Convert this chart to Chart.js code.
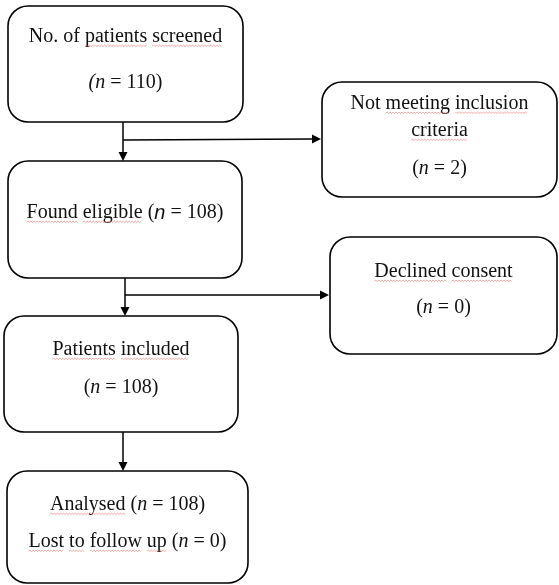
<!DOCTYPE html>
<html><head><meta charset="utf-8">
<script src="https://cdn.jsdelivr.net/npm/chart.js@4"></script>
<style>html,body{margin:0;padding:0;background:#fff}canvas{display:block}</style>
</head><body>
<canvas id="c" width="559" height="585"></canvas>
<script>
// ---- data ----
const stageLabels = ['No. of patients screened', 'Found eligible', 'Patients included', 'Analysed'];
const stageCounts = [110, 108, 108, 108];
const exclusionLabels = ['Not meeting inclusion criteria', 'Declined consent', 'Lost to follow up'];
const exclusionCounts = [2, 0, 0];

// ---- layout (scale units: x 0..559, y 0..585 top-down) ----
const FS = 20;
const SERIF = 'Liberation Serif, "Times New Roman", serif';
const SANS = 'Liberation Sans, Arial, sans-serif';
const nSeg = (v, sans) => [{t: '('}, {t: 'n', it: true, sans: sans}, {t: ' = ' + v + ')'}];
const words = (s, sq) => [{t: s, sq: sq}];

const boxes = [
  {x0: 8, x1: 243, y0: 6, y1: 122, lines: [
    {y: 37, segs: [{t: 'No. of '}, {t: stageLabels[0].replace('No. of ', ''), sq: true}]},
    {y: 83, segs: [{t: '(', it: true}, {t: 'n', it: true}, {t: ' = ' + stageCounts[0] + ')'}]}]},
  {x0: 322, x1: 557, y0: 82, y1: 197, lines: [
    {y: 104, segs: [{t: 'Not '}, {t: exclusionLabels[0].split(' ').slice(1, 3).join(' '), sq: true}]},
    {y: 131, segs: [{t: exclusionLabels[0].split(' ').slice(3).join(' '), sq: true}]},
    {y: 169, segs: nSeg(exclusionCounts[0])}]},
  {x0: 8, x1: 242, y0: 161, y1: 278, lines: [
    {y: 213, segs: [{t: stageLabels[1], sq: true}, {t: ' ('}, {t: 'n', it: true, sans: true}, {t: ' = ' + stageCounts[1] + ')'}]}]},
  {x0: 330, x1: 557, y0: 237, y1: 354, lines: [
    {y: 272, segs: words(exclusionLabels[1], true)},
    {y: 308, segs: nSeg(exclusionCounts[1])}]},
  {x0: 4, x1: 238, y0: 316, y1: 432, lines: [
    {y: 350, segs: words(stageLabels[2], true)},
    {y: 388, segs: nSeg(stageCounts[2])}]},
  {x0: 7, x1: 248, y0: 471, y1: 583, lines: [
    {y: 505, segs: [{t: stageLabels[3], sq: true}, {t: ' '}].concat(nSeg(stageCounts[3]))},
    {y: 542, segs: [{t: exclusionLabels[2], sq: true}, {t: ' '}].concat(nSeg(exclusionCounts[2]))}]}
];

// arrows: polyline points, arrowhead at last point
const arrows = [
  [[123, 122], [123, 161]],
  [[123, 140], [321, 139]],
  [[125, 278], [125, 316]],
  [[125, 295], [329, 295]],
  [[123, 432], [123, 471]]
];

function fontOf(s) {
  return (s.it ? 'italic ' : '') + FS + 'px ' + (s.sans ? SANS : SERIF);
}

function squiggle(ctx, x0, x1, y) {
  ctx.save();
  ctx.strokeStyle = 'rgba(225,90,90,0.75)';
  ctx.lineWidth = 0.7;
  ctx.beginPath();
  let up = true;
  ctx.moveTo(x0, y);
  for (let x = x0 + 1.5; x <= x1; x += 1.5) {
    ctx.lineTo(x, up ? y - 0.8 : y + 0.4);
    up = !up;
  }
  ctx.stroke();
  ctx.restore();
}

const flowPlugin = {
  id: 'flow',
  afterDraw(chart) {
    const ctx = chart.ctx;
    const xs = chart.scales.x, ys = chart.scales.y;
    const px = v => xs.getPixelForValue(v), py = v => ys.getPixelForValue(v);
    ctx.save();
    ctx.strokeStyle = '#000';
    ctx.fillStyle = '#000';
    ctx.lineWidth = 1.6;
    // boxes
    boxes.forEach(b => {
      const x0 = px(b.x0), x1 = px(b.x1), y0 = py(b.y0), y1 = py(b.y1);
      ctx.beginPath();
      ctx.roundRect(x0, y0, x1 - x0, y1 - y0, 20);
      ctx.stroke();
      const cx = (x0 + x1) / 2;
      b.lines.forEach(l => {
        let w = 0;
        l.segs.forEach(s => { ctx.font = fontOf(s); s.w = ctx.measureText(s.t).width; w += s.w; });
        let x = cx - w / 2;
        const y = py(l.y);
        ctx.textBaseline = 'middle';
        ctx.textAlign = 'left';
        l.segs.forEach(s => {
          ctx.font = fontOf(s);
          ctx.fillStyle = '#111';
          ctx.fillText(s.t, x, y);
          if (s.sq) {
            let wx = x;
            s.t.split(' ').forEach(wd => {
              const ww = ctx.measureText(wd).width;
              squiggle(ctx, wx, wx + ww, y + 9);
              wx += ww + ctx.measureText(' ').width;
            });
          }
          x += s.w;
        });
      });
    });
    // arrows
    ctx.strokeStyle = '#000';
    ctx.fillStyle = '#000';
    ctx.lineWidth = 1.5;
    arrows.forEach(a => {
      const pts = a.map(p => [px(p[0]), py(p[1])]);
      const n = pts.length;
      const [ex, ey] = pts[n - 1], [sx, sy] = pts[n - 2];
      const ang = Math.atan2(ey - sy, ex - sx);
      const L = 9, W = 4.5;
      ctx.beginPath();
      ctx.moveTo(pts[0][0], pts[0][1]);
      for (let i = 1; i < n - 1; i++) ctx.lineTo(pts[i][0], pts[i][1]);
      ctx.lineTo(ex - L * Math.cos(ang), ey - L * Math.sin(ang));
      ctx.stroke();
      ctx.beginPath();
      ctx.moveTo(ex, ey);
      ctx.lineTo(ex - L * Math.cos(ang) - W * Math.sin(ang), ey - L * Math.sin(ang) + W * Math.cos(ang));
      ctx.lineTo(ex - L * Math.cos(ang) + W * Math.sin(ang), ey - L * Math.sin(ang) - W * Math.cos(ang));
      ctx.closePath();
      ctx.fill();
    });
    ctx.restore();
  }
};

new Chart(document.getElementById('c'), {
  type: 'scatter',
  data: {datasets: [{data: [], pointRadius: 0}]},
  options: {
    responsive: false,
    animation: false,
    devicePixelRatio: 1,
    layout: {padding: 0},
    plugins: {legend: {display: false}, tooltip: {enabled: false}},
    scales: {
      x: {type: 'linear', min: 0, max: 559, display: false},
      y: {type: 'linear', min: 0, max: 585, reverse: true, display: false}
    }
  },
  plugins: [flowPlugin]
});
</script>
</body></html>
